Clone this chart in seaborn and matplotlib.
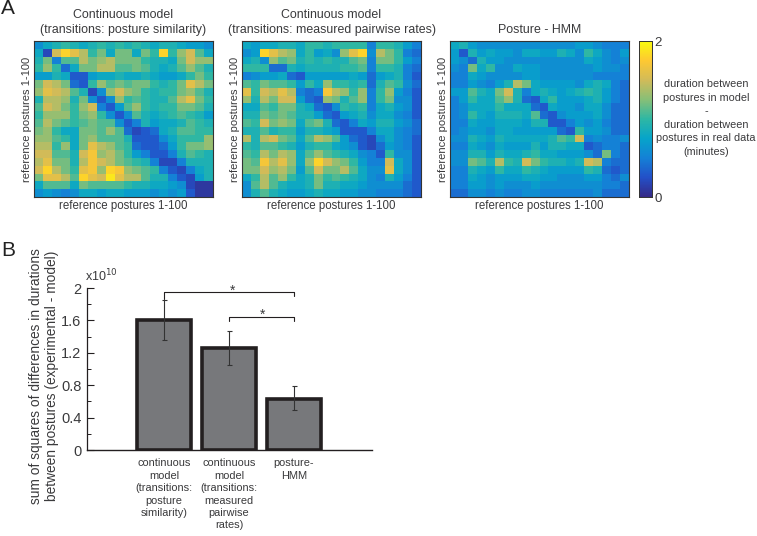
import matplotlib
matplotlib.use("Agg")
import matplotlib.pyplot as plt
import seaborn as sns
import numpy as np
from matplotlib.colors import LinearSegmentedColormap

# Dados - heatmaps read on a coarse 20x20 grid (tenths of a minute)
similarity = [
    [6, 8, 9, 10, 9, 8, 9, 10, 9, 10, 9, 10, 9, 8, 9, 9, 8, 7, 7, 6],
    [8, 2, 15, 18, 16, 14, 10, 12, 8, 12, 12, 8, 12, 10, 18, 10, 13, 15, 11, 8],
    [9, 12, 5, 11, 11, 14, 12, 13, 14, 12, 12, 12, 10, 9, 9, 8, 12, 15, 13, 13],
    [10, 13, 10, 4, 8, 12, 12, 14, 14, 11, 11, 12, 11, 9, 8, 9, 11, 13, 11, 9],
    [7, 7, 9, 8, 3, 3, 7, 8, 8, 9, 8, 8, 9, 8, 7, 7, 8, 10, 12, 10],
    [12, 15, 14, 12, 4, 3, 10, 13, 11, 12, 11, 12, 12, 10, 9, 10, 12, 16, 14, 12],
    [13, 16, 15, 14, 11, 9, 2, 6, 13, 15, 13, 12, 10, 9, 10, 10, 12, 13, 11, 9],
    [9, 14, 14, 13, 9, 12, 6, 3, 6, 13, 10, 11, 10, 9, 9, 11, 14, 16, 12, 10],
    [11, 15, 14, 12, 10, 13, 15, 5, 3, 7, 11, 13, 10, 9, 10, 10, 12, 12, 11, 9],
    [10, 13, 13, 13, 10, 12, 13, 10, 6, 3, 6, 11, 9, 8, 9, 10, 11, 10, 9, 7],
    [11, 14, 12, 11, 10, 11, 12, 11, 11, 6, 3, 5, 9, 7, 8, 8, 9, 11, 10, 9],
    [12, 13, 10, 8, 8, 12, 12, 11, 13, 11, 4, 2, 3, 4, 8, 9, 11, 11, 10, 10],
    [13, 13, 11, 10, 8, 12, 13, 11, 11, 11, 9, 3, 3, 3, 6, 8, 10, 10, 10, 13],
    [14, 14, 10, 13, 8, 12, 16, 14, 13, 11, 10, 4, 3, 3, 4, 7, 10, 12, 12, 13],
    [15, 15, 11, 11, 9, 15, 17, 13, 14, 12, 10, 7, 5, 3, 3, 5, 9, 11, 10, 9],
    [14, 16, 12, 12, 9, 14, 17, 15, 14, 12, 11, 10, 9, 5, 2, 2, 5, 9, 9, 9],
    [15, 18, 14, 12, 10, 16, 17, 13, 18, 17, 13, 12, 11, 10, 5, 3, 2, 5, 8, 9],
    [12, 16, 16, 14, 11, 18, 16, 15, 19, 16, 14, 14, 11, 9, 9, 5, 3, 2, 7, 9],
    [8, 11, 11, 11, 8, 12, 11, 11, 11, 11, 10, 9, 9, 8, 8, 7, 6, 2, 1, 1],
    [6, 7, 6, 5, 6, 8, 8, 7, 8, 8, 7, 7, 7, 6, 7, 6, 7, 3, 1, 1],
]
pairwise = [
    [8, 7, 8, 8, 9, 9, 8, 10, 10, 9, 10, 10, 10, 10, 5, 10, 10, 9, 7, 5],
    [6, 7, 18, 16, 14, 13, 8, 10, 7, 8, 6, 13, 16, 18, 6, 14, 12, 10, 5, 4],
    [8, 9, 6, 13, 11, 12, 9, 10, 9, 10, 9, 9, 11, 12, 5, 12, 12, 10, 7, 5],
    [10, 10, 10, 4, 4, 9, 8, 9, 9, 9, 9, 10, 10, 11, 5, 10, 10, 9, 5, 4],
    [5, 6, 7, 7, 8, 4, 3, 7, 7, 7, 7, 7, 8, 7, 4, 7, 8, 9, 5, 3],
    [11, 10, 12, 11, 11, 10, 7, 10, 8, 13, 10, 10, 9, 10, 4, 9, 11, 10, 6, 4],
    [16, 10, 15, 14, 16, 14, 5, 4, 5, 17, 14, 13, 10, 13, 5, 10, 13, 7, 5, 3],
    [13, 9, 14, 12, 15, 15, 7, 4, 3, 13, 12, 9, 11, 13, 5, 10, 12, 6, 6, 3],
    [8, 8, 11, 10, 12, 12, 9, 8, 4, 3, 6, 10, 9, 10, 5, 8, 9, 7, 6, 3],
    [9, 9, 12, 11, 12, 11, 9, 9, 7, 4, 3, 7, 8, 9, 6, 8, 8, 6, 5, 3],
    [11, 10, 15, 12, 13, 12, 8, 11, 12, 9, 4, 3, 5, 8, 7, 9, 9, 7, 6, 4],
    [9, 9, 11, 9, 10, 10, 7, 9, 9, 8, 7, 3, 3, 3, 5, 8, 8, 6, 5, 4],
    [14, 9, 14, 15, 12, 11, 8, 11, 14, 13, 11, 7, 4, 3, 2, 6, 8, 6, 5, 3],
    [10, 9, 11, 11, 10, 9, 7, 9, 10, 10, 8, 7, 6, 3, 2, 4, 7, 6, 5, 3],
    [11, 10, 14, 12, 14, 13, 8, 11, 13, 11, 10, 9, 8, 6, 5, 3, 10, 6, 6, 3],
    [12, 11, 17, 14, 16, 13, 8, 13, 18, 15, 13, 12, 10, 7, 5, 5, 15, 8, 6, 3],
    [12, 12, 15, 13, 14, 12, 7, 11, 15, 12, 12, 14, 11, 8, 6, 6, 16, 8, 6, 3],
    [8, 10, 14, 11, 13, 10, 8, 9, 12, 10, 11, 10, 9, 8, 6, 5, 9, 7, 5, 3],
    [6, 11, 14, 11, 9, 8, 8, 9, 12, 9, 9, 8, 8, 7, 6, 6, 6, 6, 4, 3],
    [6, 9, 11, 9, 8, 7, 7, 8, 9, 8, 8, 7, 7, 6, 6, 5, 5, 5, 4, 3],
]
hmm = [
    [8, 9, 7, 6, 6, 6, 6, 6, 6, 6, 6, 6, 6, 6, 7, 7, 6, 5, 5, 5],
    [7, 3, 9, 7, 8, 7, 7, 6, 8, 8, 7, 7, 9, 8, 6, 10, 8, 6, 5, 7],
    [7, 6, 4, 9, 7, 7, 6, 6, 6, 6, 6, 6, 6, 6, 6, 8, 7, 6, 5, 6],
    [6, 5, 12, 8, 10, 6, 6, 8, 7, 7, 6, 6, 6, 6, 6, 6, 7, 6, 6, 5],
    [5, 5, 8, 7, 6, 6, 6, 6, 7, 7, 6, 6, 6, 6, 6, 6, 5, 5, 5, 5],
    [5, 5, 7, 6, 5, 7, 9, 14, 12, 8, 7, 7, 7, 7, 6, 8, 9, 8, 5, 4],
    [7, 7, 11, 9, 8, 12, 15, 9, 5, 8, 9, 8, 7, 8, 9, 10, 9, 7, 5, 4],
    [5, 7, 10, 8, 8, 11, 13, 9, 4, 3, 8, 10, 7, 7, 7, 8, 9, 7, 5, 4],
    [5, 6, 8, 8, 8, 10, 8, 8, 8, 4, 3, 8, 7, 7, 6, 8, 8, 6, 4, 4],
    [5, 6, 10, 8, 7, 9, 9, 9, 8, 11, 4, 3, 6, 7, 7, 7, 8, 6, 4, 4],
    [5, 5, 8, 7, 7, 8, 8, 8, 7, 9, 9, 3, 3, 5, 7, 6, 7, 5, 4, 4],
    [5, 6, 7, 7, 6, 8, 8, 7, 7, 7, 7, 7, 4, 3, 10, 7, 7, 6, 4, 4],
    [6, 6, 9, 8, 7, 9, 8, 8, 8, 8, 8, 9, 11, 10, 15, 5, 6, 5, 5, 6],
    [5, 5, 8, 7, 6, 8, 7, 7, 7, 9, 7, 9, 9, 8, 8, 3, 4, 5, 5, 4],
    [6, 6, 9, 9, 7, 9, 8, 8, 9, 10, 8, 8, 7, 7, 7, 6, 4, 12, 5, 4],
    [6, 6, 12, 11, 9, 14, 10, 9, 15, 12, 10, 9, 9, 8, 9, 15, 14, 5, 4, 4],
    [5, 5, 9, 8, 7, 10, 8, 8, 10, 9, 8, 7, 7, 7, 7, 10, 9, 4, 3, 4],
    [5, 5, 8, 7, 6, 7, 7, 7, 8, 8, 7, 7, 6, 6, 6, 7, 7, 5, 4, 6],
    [5, 5, 7, 7, 6, 7, 6, 6, 6, 7, 6, 6, 6, 6, 6, 6, 6, 5, 5, 4],
    [4, 4, 6, 6, 5, 6, 5, 5, 6, 6, 5, 5, 5, 5, 5, 5, 6, 4, 4, 4],
]
titulos = ["Continuous model\n(transitions: posture similarity)",
           "Continuous model\n(transitions: measured pairwise rates)",
           "Posture - HMM"]
categorias = ["continuous\nmodel\n(transitions:\nposture\nsimilarity)",
              "continuous\nmodel\n(transitions:\nmeasured\npairwise\nrates)",
              "posture-\nHMM"]
valores = [1.60, 1.26, 0.63]
erro_baixo = [1.355, 1.055, 0.49]
erro_alto = [1.855, 1.47, 0.79]
yticks = [0, 0.4, 0.8, 1.2, 1.6, 2]
ytick_labels = ["0", "0.4", "0.8", "1.2", "1.6", "2"]

W, H = 757, 536
sns.set_style("white")
plt.rcParams["font.family"] = ["Liberation Sans", "DejaVu Sans"]
parula = LinearSegmentedColormap.from_list("parula", [
    "#352A87", "#2350C8", "#1481D6", "#06A4CA", "#2EB7A4",
    "#87BF77", "#D1BB59", "#FEC832", "#F9FB0E"])
texto = "#3a3a3c"


def eixo(fig, x0, y0, x1, y1):
    # pixel box to figure fractions
    return fig.add_axes([x0 / W, 1 - y1 / H, (x1 - x0) / W, (y1 - y0) / H])


fig = plt.figure(figsize=(W / 100, H / 100), dpi=100, facecolor="white")

# Painel A
caixas = [(34, 213), (242, 421), (450, 629)]
cax = eixo(fig, 639, 41, 652, 197)
for i, (mat, tit, (x0, x1)) in enumerate(zip([similarity, pairwise, hmm], titulos, caixas)):
    ax = eixo(fig, x0, 41, x1, 197)
    sns.heatmap(np.array(mat) / 10, ax=ax, vmin=0, vmax=2, cmap=parula,
                cbar=i == 2, cbar_ax=cax if i == 2 else None,
                xticklabels=False, yticklabels=False, square=False)
    for s in ax.spines.values():
        s.set_visible(True)
        s.set_color("#333333")
        s.set_linewidth(0.8)
    ax.set_title(tit, fontsize=8.95, color=texto, pad=6, linespacing=1.25)
    ax.set_xlabel("reference postures 1-100", fontsize=8.3, color=texto, labelpad=2)
    ax.set_ylabel("reference postures 1-100", fontsize=8.0, color=texto, labelpad=1.5)

cax.set_yticks([0, 0.5, 1, 1.5, 2])
cax.set_yticklabels(["0", "", "", "", "2"], fontsize=9.5, color=texto)
cax.tick_params(axis="y", direction="in", length=2, width=0.5, pad=2, right=True, color="#333333")
for s in cax.spines.values():
    s.set_visible(True)
    s.set_color("#333333")
    s.set_linewidth(0.6)

fig.text(706 / W, 1 - 118 / H,
         "duration between\npostures in model\n-\nduration between\npostures in real data\n(minutes)",
         fontsize=7.8, color=texto, ha="center", va="center", linespacing=1.45)
fig.text(1 / W, 1 - 8 / H, "A", fontsize=15, color="#222222", ha="left", va="center")
fig.text(1 / W, 1 - 250 / H, "B", fontsize=15, color="#222222", ha="left", va="center")

# Painel B
ax2 = eixo(fig, 87, 288, 372, 450)
sns.barplot(x=categorias, y=valores, ax=ax2, color="#77787b", saturation=1,
            edgecolor="#231f20", linewidth=2.6, width=0.82)
ax2.set_xlim(-1.185, 3.2)
ax2.set_ylim(0, 2)
val = np.array(valores)
ax2.errorbar(range(3), valores, yerr=[val - np.array(erro_baixo), np.array(erro_alto) - val],
             fmt="none", ecolor="#333333", elinewidth=0.8, capsize=1.8, capthick=0.8)
ax2.set_yticks(yticks)
ax2.set_yticklabels(ytick_labels, fontsize=10.5, color=texto)
ax2.set_yticks(np.arange(0.2, 2, 0.4), minor=True)
ax2.tick_params(axis="y", which="major", direction="in", length=5, width=0.8, left=True, pad=4, color="#231f20")
ax2.tick_params(axis="y", which="minor", direction="in", length=3, width=0.7, left=True, color="#231f20")
ax2.tick_params(axis="x", length=0, pad=6)
ax2.set_xticklabels(categorias, fontsize=7.9, color=texto, linespacing=1.3)
sns.despine(ax=ax2)
ax2.spines["left"].set_color("#231f20")
ax2.spines["bottom"].set_color("#231f20")
ax2.spines["left"].set_linewidth(0.9)
ax2.spines["bottom"].set_linewidth(1.0)
ax2.patch.set_alpha(0)

# Colchetes de significancia
ax2.plot([0, 0, 2, 2], [1.87, 1.95, 1.95, 1.90], color="#231f20", lw=0.8, clip_on=False)
ax2.plot([1, 1, 2, 2], [1.59, 1.647, 1.647, 1.59], color="#231f20", lw=0.8, clip_on=False)
ax2.text(1.05, 1.97, "*", fontsize=10, ha="center", va="center", color=texto)
ax2.text(1.52, 1.665, "*", fontsize=10, ha="center", va="center", color=texto)

fig.text(85 / W, 1 - 276 / H, r"x10$^{10}$", fontsize=9, color=texto, ha="left", va="center",
         math_fontfamily="dejavusans")
fig.text(44 / W, 1 - 376 / H,
         "sum of squares of differences in durations\nbetween postures (experimental - model)",
         rotation=90, fontsize=9.9, color=texto, ha="center", va="center", linespacing=1.2)

fig.savefig("out.png", dpi=100)
